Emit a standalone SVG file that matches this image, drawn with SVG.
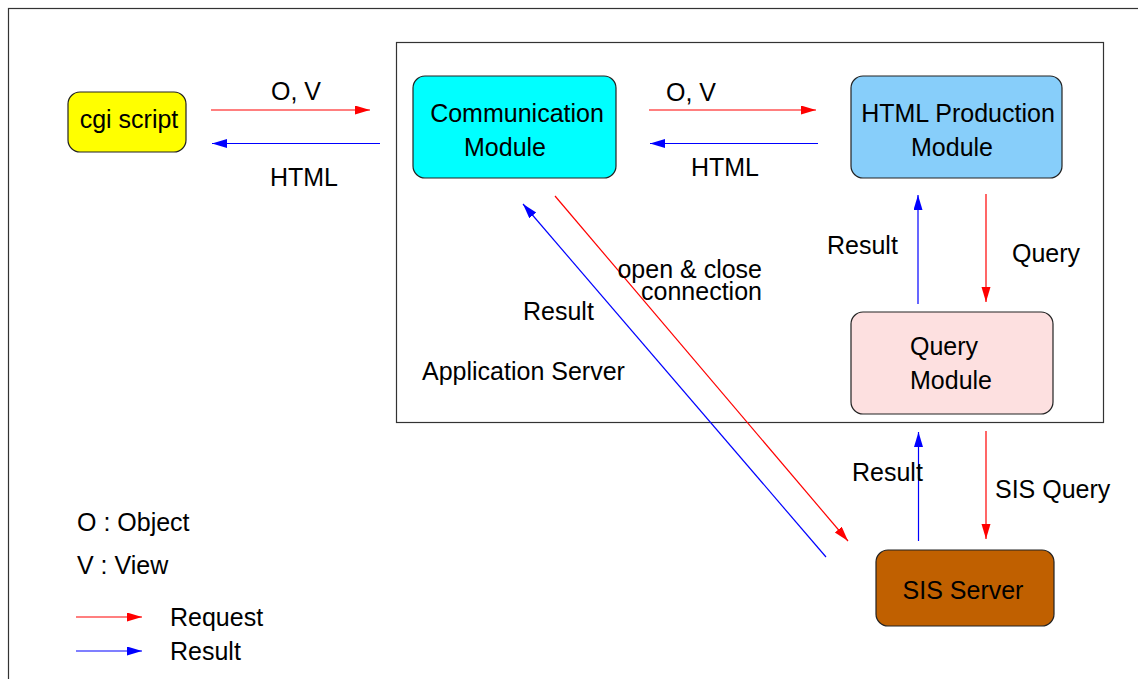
<svg xmlns="http://www.w3.org/2000/svg" width="1138" height="679" viewBox="0 0 1138 679">
<defs>
<style>
text{font-family:"Liberation Sans",Arial,sans-serif;font-size:25px;fill:#000}
.node{stroke:#222;stroke-width:1.2}
.req{stroke:#ff0000;stroke-width:1.2;fill:none;marker-end:url(#ar)}
.res{stroke:#0000ff;stroke-width:1.2;fill:none;marker-end:url(#ab)}
.mid{text-anchor:middle}
</style>
<marker id="ar" markerUnits="userSpaceOnUse" markerWidth="16" markerHeight="10" refX="15" refY="4.5" orient="auto"><path d="M0,0 L15,4.5 L0,9 z" fill="#ff0000"/></marker>
<marker id="ab" markerUnits="userSpaceOnUse" markerWidth="16" markerHeight="10" refX="15" refY="4.5" orient="auto"><path d="M0,0 L15,4.5 L0,9 z" fill="#0000ff"/></marker>
</defs>
<rect width="1138" height="679" fill="#fff"/>
<rect x="8.5" y="8.5" width="1140" height="690" fill="none" stroke="#333" stroke-width="1.2"/>
<g id="app-server">
<rect x="396.5" y="42.5" width="707" height="380" fill="none" stroke="#333" stroke-width="1.2"/>
<text x="422" y="380">Application Server</text>
</g>
<g id="cgi">
<rect class="node" x="68" y="92" width="118" height="60" rx="12" fill="#ffff00"/>
<text class="mid" x="129" y="128">cgi script</text>
</g>
<g id="comm">
<rect class="node" x="413" y="76" width="203" height="102" rx="12" fill="#00ffff"/>
<text class="mid" x="517" y="122">Communication</text>
<text class="mid" x="505" y="156">Module</text>
</g>
<g id="html">
<rect class="node" x="851" y="76" width="211" height="102" rx="12" fill="#87cefa"/>
<text class="mid" x="958" y="122">HTML Production</text>
<text class="mid" x="952" y="156">Module</text>
</g>
<g id="query">
<rect class="node" x="851" y="312" width="202" height="102" rx="12" fill="#fde0e0"/>
<text class="mid" x="944" y="355">Query</text>
<text class="mid" x="951" y="389">Module</text>
</g>
<g id="sis">
<rect class="node" x="876" y="550" width="178" height="76" rx="12" fill="#c06000"/>
<text class="mid" x="963" y="599">SIS Server</text>
</g>
<g id="connectors">
<line class="req" x1="211" y1="110" x2="370" y2="110"/>
<line class="res" x1="380" y1="143.5" x2="212" y2="143.5"/>
<line class="req" x1="649" y1="110" x2="816" y2="110"/>
<line class="res" x1="818" y1="143.5" x2="650" y2="143.5"/>
<line class="req" x1="986" y1="194" x2="986" y2="302"/>
<line class="res" x1="918" y1="304" x2="918" y2="195"/>
<line class="req" x1="986" y1="431" x2="986" y2="539"/>
<line class="res" x1="918.5" y1="541" x2="918.5" y2="432"/>
<line class="req" x1="555" y1="196" x2="848" y2="541"/>
<line class="res" x1="826" y1="557" x2="523" y2="204"/>
</g>
<g id="labels">
<text class="mid" x="296" y="100">O, V</text>
<text class="mid" x="304" y="186">HTML</text>
<text class="mid" x="691" y="101">O, V</text>
<text class="mid" x="725" y="176">HTML</text>
<text x="827" y="254">Result</text>
<text x="1012" y="262">Query</text>
<text x="852" y="481">Result</text>
<text x="995" y="498">SIS Query</text>
<text x="762" y="278" text-anchor="end">open &amp; close</text>
<text x="762" y="300" text-anchor="end">connection</text>
<text x="523" y="320">Result</text>
</g>
<g id="legend">
<text x="77" y="531">O : Object</text>
<text x="77" y="574">V : View</text>
<line class="req" x1="76" y1="617" x2="142" y2="617"/>
<text x="170" y="626">Request</text>
<line class="res" x1="76" y1="651" x2="142" y2="651"/>
<text x="170" y="660">Result</text>
</g>
</svg>
